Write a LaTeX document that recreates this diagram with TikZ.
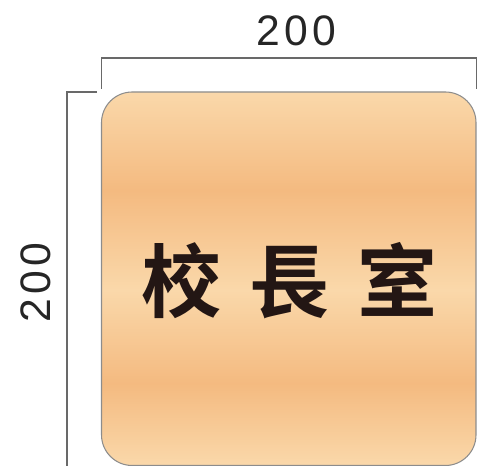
\documentclass[tikz,border=0pt]{standalone}
\usepackage{fontspec}
\setmainfont{Liberation Sans}
\newfontfamily\cjk{Noto Sans CJK TC Bold}
\newfontfamily\dimfont[LetterSpace=10]{Liberation Sans}

\definecolor{platelight}{RGB}{250,216,170}
\definecolor{platedark}{RGB}{244,186,128}
\definecolor{dimgray}{RGB}{105,105,105}

\pgfdeclareverticalshading{plate}{100bp}{
  color(0bp)=(platelight);
  color(25bp)=(platelight);
  color(36bp)=(platedark);
  color(48.5bp)=(platelight);
  color(61.8bp)=(platedark);
  color(75bp)=(platelight);
  color(100bp)=(platelight)}

\tikzset{
  dimline/.style={draw=dimgray, line width=1.1pt},
  dimlabel/.style={font=\dimfont\fontsize{32pt}{32pt}\selectfont, text=black!85},
}

\begin{document}
\begin{tikzpicture}[x=0.75pt,y=0.75pt,yscale=-1,xscale=1]
\useasboundingbox (0,0) rectangle (477,466);

%Shape: Rounded Rect [id:plate]
\draw [shading=plate, draw={rgb, 255:red, 140; green, 140; blue, 140}, line width=0.8pt, rounded corners=23pt] (101.5,92) rectangle (476,465.5);

%Straight Lines [id:widthdim]
\draw [dimline]   (101.5,89) -- (101.5,58) -- (476.5,58) -- (476.5,89) ;

%Straight Lines [id:heightdim]
\draw [dimline]   (97,92) -- (67,92) -- (67,466) ;

% Text Node
\draw (296,31) node [dimlabel] (width) {200};
% Text Node
\draw (36,283) node [dimlabel, rotate=90] (height) {200};
% Text Node
\draw (289,281) node [font=\cjk\fontsize{60pt}{60pt}\selectfont, text={rgb, 255:red, 35; green, 22; blue, 20}] (title) {校\hspace{21pt}長\hspace{21pt}室};

\end{tikzpicture}
\end{document}
